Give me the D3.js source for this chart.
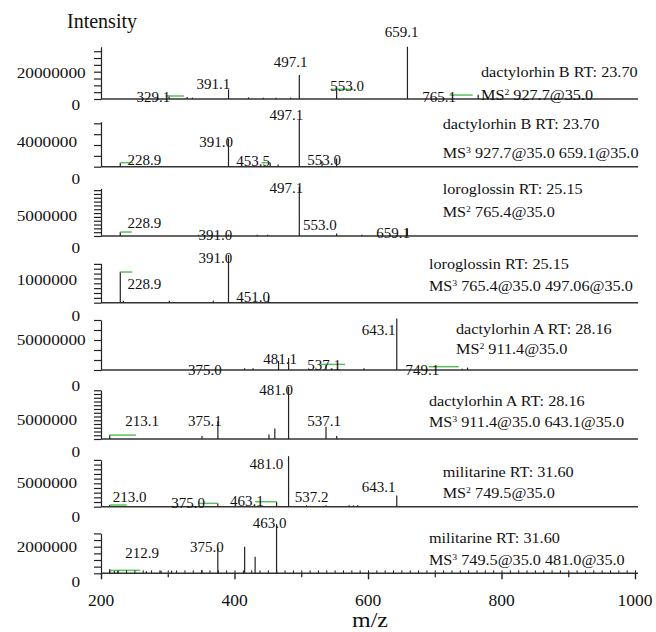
<!DOCTYPE html>
<html><head><meta charset="utf-8">
<script src="https://cdn.jsdelivr.net/npm/d3@7"></script>
<style>
body{margin:0;background:#fff}
svg{display:block}
</style>
</head><body>
<svg id="c" width="656" height="632" font-family="'Liberation Serif', Tinos, 'Times New Roman', Times, 'DejaVu Serif', serif"></svg>
<script>
// ---------------- DATA ----------------
const compounds = ["dactylorhin B RT: 23.70","dactylorhin B RT: 23.70","loroglossin RT: 25.15","loroglossin RT: 25.15",
  "dactylorhin A RT: 28.16","dactylorhin A RT: 28.16","militarine RT: 31.60","militarine RT: 31.60"];
const msLevels = ["2","3","2","3","2","3","2","3"];
const msTexts = [" 927.7@35.0"," 927.7@35.0 659.1@35.0"," 765.4@35.0"," 765.4@35.0 497.06@35.0",
  " 911.4@35.0"," 911.4@35.0 643.1@35.0"," 749.5@35.0"," 749.5@35.0 481.0@35.0"];
const yLabelTicks = [20000000, 4000000, 5000000, 1000000, 50000000, 5000000, 5000000, 2000000];
const yTickSteps = [5e6, 2e6, 1.25e6, 0.25e6, 50e6/3, 1.25e6, 1e6, 0.5e6];
const yAxisMax = [38.3e6, 8.3e6, 15.6e6, 2.03e6, 83.5e6, 16.3e6, 10e6, 3.0e6];
const xTickLabels = [200, 400, 600, 800, 1000];
const xMidTicks = [300, 500, 700, 900];

// peaks: [m/z, intensity]
const peaks1 = [[659.1,38.3e6],[497.1,17.5e6],[391.1,7.1e6],[553.0,7.1e6],[765.1,3.2e6],[329.1,1.5e6],[302,2.5e6],
  [337,1e6],[421,1.2e6],[443,1e6],[462,1e6],[484,1e6]];
const peaks2 = [[497.1,8.6e6],[391.0,5.2e6],[453.5,0.74e6],[465.4,0.4e6],[553.0,1.5e6],[531.2,1.0e6],[228.9,0.74e6]];
const peaks3 = [[497.1,16.1e6],[553.0,0.8e6],[659.1,2.5e6],[391.0,0.5e6],[228.9,1.3e6],[346,0.4e6],[434,0.4e6],[449.7,0.4e6],[590.7,0.4e6]];
const peaks4 = [[391.0,2.46e6],[228.9,1.6e6],[451.0,0.35e6],[233.5,0.1e6],[302.4,0.1e6],[368.2,0.1e6]];
const peaks5 = [[643.1,86e6],[481.1,20e6],[466,15e6],[537.1,9e6],[415.2,3e6],[427.8,3e6],[593.9,3e6],[749.1,4e6],[741.2,2e6],[375.0,1e6]];
const peaks6 = [[481.0,17.4e6],[375.1,6.0e6],[351.3,1e6],[537.1,4.1e6],[553.1,1e6],[213.1,1.3e6],[451.6,1.5e6],[460.4,3.5e6]];
const peaks7 = [[481.0,10.8e6],[643.1,2.4e6],[463.1,1.07e6],[375.0,0.72e6],[213.0,0.36e6],[508,0.3e6],[571.9,0.3e6],[578.2,0.3e6],[584.5,0.3e6],[537.2,0.3e6]];
const peaks8 = [[463.0,3.7e6],[375.0,1.9e6],[415.2,2.0e6],[430.9,1.25e6],[212.9,0.3e6],[351.3,0.25e6],[268,0.15e6],[290,0.2e6],[305.6,0.2e6],[220,0.2e6],[225,0.15e6]];

// peak labels: [text, m/z at label centre, intensity level at label centre]
const labels1 = [["659.1",650.3,49e6],["497.1",484.2,27e6],["391.1",368.2,11.5e6],["553.0",568.8,9.5e6],["765.1",706.7,1.7e6],["329.1",278.6,1.7e6]];
const labels2 = [["497.1",477.9,9.5e6],["391.0",372.6,4.6e6],["453.5",427.8,1.1e6],["553.0",534.3,1.2e6],["228.9",264.8,1.2e6]];
const labels3 = [["497.1",477.9,15.9e6],["553.0",528,3.6e6],["659.1",637.8,0.9e6],["391.0",371.4,0.3e6],["228.9",264.8,4.3e6]];
const labels4 = [["391.0",371.4,2.3e6],["228.9",264.8,1.0e6],["451.0",427.8,0.31e6]];
const labels5 = [["643.1",615.8,66.7e6],["481.1",468.5,19.4e6],["537.1",534.3,8.3e6],["375.0",355.7,0],["749.1",681.6,0]];
const labels6 = [["481.0",462.2,16.3e6],["375.1",355.7,6.2e6],["537.1",534.3,6.2e6],["213.1",261.7,6.2e6]];
const labels7 = [["481.0",447.8,9.1e6],["537.2",515.5,2.1e6],["643.1",615.8,4.3e6],["463.1",418.4,1.2e6],["375.0",330.6,0.93e6],["213.0",242.9,2.1e6]];
const labels8 = [["463.0",452.5,3.78e6],["375.0",358.8,2.0e6],["212.9",261.7,1.55e6]];

// green markers: [m/z start, m/z end, intensity level]
const greens1 = [[543.7,578.2,7.1e6],[722.4,756.9,2.9e6],[296.2,324.4,2.2e6]];
const greens2 = [[228.9,248,0.74e6],[440.3,452.8,0.74e6]];
const greens3 = [[228.9,246,1.3e6]];
const greens4 = [[228.9,247,1.58e6]];
const greens5 = [[528,565.7,9.4e6],[691,736,5.5e6]];
const greens6 = [[213.1,252.3,1.3e6]];
const greens7 = [[430.9,463.1,1.07e6],[346.3,375.0,0.72e6],[213.0,238.5,0.36e6]];
const greens8 = [[212.9,258.5,0.22e6]];

const allPeaks = [peaks1,peaks2,peaks3,peaks4,peaks5,peaks6,peaks7,peaks8];
const allLabels = [labels1,labels2,labels3,labels4,labels5,labels6,labels7,labels8];
const allGreens = [greens1,greens2,greens3,greens4,greens5,greens6,greens7,greens8];

// ---------------- LAYOUT ----------------
const baselines = [99, 166.7, 236, 302.7, 370, 439, 506.7, 573.3];
const axisPx = [52.3, 45, 47.7, 39.4, 50.1, 48.9, 46.8, 39.9];
const zeroDy = [6, 12, 12, 13, 16, 13, 10, 8.4];
const textX = [481, 442.7, 442.7, 428.9, 456, 428.9, 442.7, 428.9];
const titleY = [71.7, 124, 188.3, 264, 329, 401, 471.7, 537.3];
const msY = [95, 153, 212, 286, 348.3, 421.7, 492.3, 560];
const tickLabelShift = [1, -3, -5, -4, 0, -4, -1, 0];
const LINE = "#222", GREEN = "#5cc05c";
const FONT = "'Liberation Serif', Tinos, 'Times New Roman', Times, 'DejaVu Serif', serif";

const svg = d3.select("#c");
const x = d3.scaleLinear().domain([200, 1000]).range([101, 635]);
const xLeft = x(200), xRight = x(1000) + 3;

function txt(g, px, py, s, size, anchor, stretch) {
  const t = g.append("g").attr("transform", `translate(${px},${py}) scale(${stretch},1)`);
  return t.append("text").attr("text-anchor", anchor).attr("dy", "0.35em")
    .attr("font-family", FONT).attr("fill", "#111")
    .attr("font-size", size).text(s);
}

// Intensity title
txt(svg, 67, 21, "Intensity", 20, "start", 1);

allPeaks.forEach((pk, i) => {
  const base = baselines[i];
  const y = d3.scaleLinear().domain([0, yAxisMax[i]]).range([base, base - axisPx[i]]);
  const g = svg.append("g");

  // y axis ticks
  const ticks = d3.range(0, yAxisMax[i] + 1, yTickSteps[i]);
  const ax = d3.axisLeft(y).tickValues(ticks).tickSize(7).tickSizeOuter(0).tickFormat("");
  const axg = g.append("g").attr("transform", `translate(${xLeft},0)`).call(ax);
  axg.selectAll("path,line").attr("stroke", LINE).attr("stroke-width", 1.2);

  // tick labels
  txt(g, 16.7, y(yLabelTicks[i]) + tickLabelShift[i], String(yLabelTicks[i]), 15, "start", 1.15);
  txt(g, 80, base + zeroDy[i], "0", 15, "end", 1.15);

  // baseline
  g.append("line").attr("x1", xLeft).attr("x2", xRight).attr("y1", base).attr("y2", base)
    .attr("stroke", "#333").attr("stroke-width", 1.5);

  // peaks
  g.selectAll("line.pk").data(pk).join("line").attr("class", "pk")
    .attr("x1", d => x(d[0])).attr("x2", d => x(d[0]))
    .attr("y1", y(0)).attr("y2", d => y(d[1]))
    .attr("stroke", LINE).attr("stroke-width", 1.2);

  // green markers
  g.selectAll("line.gr").data(allGreens[i]).join("line").attr("class", "gr")
    .attr("x1", d => x(d[0])).attr("x2", d => x(d[1]))
    .attr("y1", d => y(d[2])).attr("y2", d => y(d[2]))
    .attr("stroke", GREEN).attr("stroke-width", 1.5);

  // peak labels
  allLabels[i].forEach(l => txt(g, x(l[1]), y(l[2]), l[0], 15, "middle", 1));

  // right annotations
  txt(g, textX[i], titleY[i], compounds[i], 15, "start", 1.08);
  const ms = txt(g, textX[i], msY[i], "", 15, "start", 1.08);
  ms.append("tspan").text("MS");
  ms.append("tspan").attr("dy", -5).attr("font-size", 9).text(msLevels[i]);
  ms.append("tspan").attr("dy", 5).text(msTexts[i]);
});

// x axis on the last panel
const xb = baselines[7];
const minor = d3.range(200, 1000.01, 12.5);
const axMinor = d3.axisBottom(x).tickValues(minor).tickSize(-3).tickSizeOuter(0).tickFormat("");
const gm = svg.append("g").attr("transform", `translate(0,${xb})`).call(axMinor);
gm.select(".domain").remove();
gm.selectAll("line").attr("stroke", LINE).attr("stroke-width", 1);
const axMid = d3.axisBottom(x).tickValues(xMidTicks).tickSize(4).tickSizeOuter(0).tickFormat("");
const gd = svg.append("g").attr("transform", `translate(0,${xb})`).call(axMid);
gd.select(".domain").remove();
gd.selectAll("line").attr("stroke", LINE).attr("stroke-width", 1.2);
const axMaj = d3.axisBottom(x).tickValues(xTickLabels).tickSize(6).tickSizeOuter(0).tickFormat("");
const gj = svg.append("g").attr("transform", `translate(0,${xb})`).call(axMaj);
gj.select(".domain").remove();
gj.selectAll("line").attr("stroke", LINE).attr("stroke-width", 1.4);
xTickLabels.forEach(v => txt(svg, x(v), 600, String(v), 17.5, "middle", 1));
txt(svg, 370, 620, "m/z", 20, "middle", 1.2);
</script>
</body></html>
